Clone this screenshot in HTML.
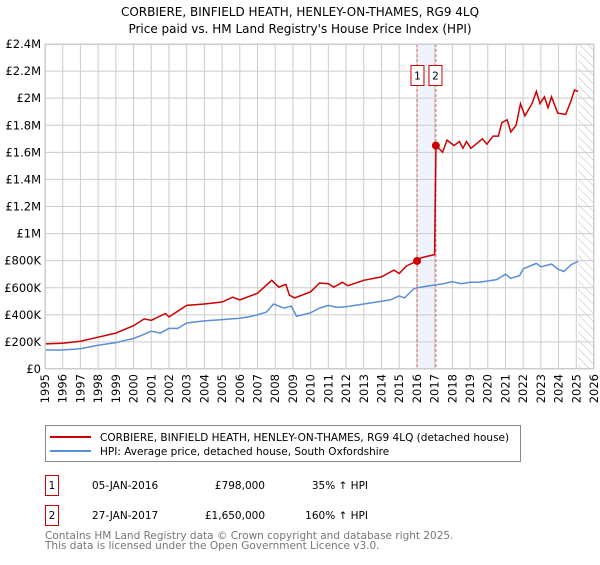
<!DOCTYPE html>
<html><head><meta charset="utf-8"><style>
body{margin:0;background:#fff;font-family:"Liberation Sans","DejaVu Sans",sans-serif;}
svg text{font-family:"DejaVu Sans","Liberation Sans",sans-serif;}
.xl{font-size:11.5px;text-anchor:end;}
</style></head><body>
<svg id="c" width="600" height="560" xmlns="http://www.w3.org/2000/svg">
<defs><pattern id="hatch" width="6" height="6" patternUnits="userSpaceOnUse" patternTransform="rotate(-45)"><line x1="0" y1="0" x2="0" y2="6" stroke="#bbb" stroke-width="1"/></pattern></defs>
<text x="300" y="16" text-anchor="middle" font-size="12">CORBIERE, BINFIELD HEATH, HENLEY-ON-THAMES, RG9 4LQ</text>
<text x="300" y="33" text-anchor="middle" font-size="12">Price paid vs. HM Land Registry's House Price Index (HPI)</text>
<g id="grid"></g><g id="marks"></g><g id="axes"></g>
<g id="xlabels">
<text class="xl" transform="translate(49,374) rotate(-90)">1995</text>
<text class="xl" transform="translate(66.7,374) rotate(-90)">1996</text>
<text class="xl" transform="translate(84.4,374) rotate(-90)">1997</text>
<text class="xl" transform="translate(102.1,374) rotate(-90)">1998</text>
<text class="xl" transform="translate(119.8,374) rotate(-90)">1999</text>
<text class="xl" transform="translate(137.5,374) rotate(-90)">2000</text>
<text class="xl" transform="translate(155.3,374) rotate(-90)">2001</text>
<text class="xl" transform="translate(173,374) rotate(-90)">2002</text>
<text class="xl" transform="translate(190.7,374) rotate(-90)">2003</text>
<text class="xl" transform="translate(208.4,374) rotate(-90)">2004</text>
<text class="xl" transform="translate(226.1,374) rotate(-90)">2005</text>
<text class="xl" transform="translate(243.8,374) rotate(-90)">2006</text>
<text class="xl" transform="translate(261.5,374) rotate(-90)">2007</text>
<text class="xl" transform="translate(279.2,374) rotate(-90)">2008</text>
<text class="xl" transform="translate(296.9,374) rotate(-90)">2009</text>
<text class="xl" transform="translate(314.6,374) rotate(-90)">2010</text>
<text class="xl" transform="translate(332.4,374) rotate(-90)">2011</text>
<text class="xl" transform="translate(350.1,374) rotate(-90)">2012</text>
<text class="xl" transform="translate(367.8,374) rotate(-90)">2013</text>
<text class="xl" transform="translate(385.5,374) rotate(-90)">2014</text>
<text class="xl" transform="translate(403.2,374) rotate(-90)">2015</text>
<text class="xl" transform="translate(420.9,374) rotate(-90)">2016</text>
<text class="xl" transform="translate(438.6,374) rotate(-90)">2017</text>
<text class="xl" transform="translate(456.3,374) rotate(-90)">2018</text>
<text class="xl" transform="translate(474,374) rotate(-90)">2019</text>
<text class="xl" transform="translate(491.7,374) rotate(-90)">2020</text>
<text class="xl" transform="translate(509.5,374) rotate(-90)">2021</text>
<text class="xl" transform="translate(527.2,374) rotate(-90)">2022</text>
<text class="xl" transform="translate(544.9,374) rotate(-90)">2023</text>
<text class="xl" transform="translate(562.6,374) rotate(-90)">2024</text>
<text class="xl" transform="translate(580.3,374) rotate(-90)">2025</text>
<text class="xl" transform="translate(598,374) rotate(-90)">2026</text>
</g>
<rect x="45.5" y="425.5" width="475" height="36" fill="#fff" stroke="#888"/>
<line x1="50" y1="437" x2="91" y2="437" stroke="#cc0000" stroke-width="2"/>
<text x="100" y="441" font-size="10.5">CORBIERE, BINFIELD HEATH, HENLEY-ON-THAMES, RG9 4LQ (detached house)</text>
<line x1="50" y1="451" x2="91" y2="451" stroke="#5b8fd6" stroke-width="2"/>
<text x="100" y="455" font-size="10.5">HPI: Average price, detached house, South Oxfordshire</text>
<rect x="45.5" y="475.5" width="13" height="20" fill="#fff" stroke="#cc0000"/>
<text x="52" y="489" text-anchor="middle" font-size="10.5">1</text>
<text x="92" y="489" font-size="10.5">05-JAN-2016</text>
<text x="265" y="489" text-anchor="end" font-size="10.5">£798,000</text>
<text x="368" y="489" text-anchor="end" font-size="10.5">35% ↑ HPI</text>
<rect x="45.5" y="505.5" width="13" height="20" fill="#fff" stroke="#cc0000"/>
<text x="52" y="519" text-anchor="middle" font-size="10.5">2</text>
<text x="92" y="519" font-size="10.5">27-JAN-2017</text>
<text x="265" y="519" text-anchor="end" font-size="10.5">£1,650,000</text>
<text x="368" y="519" text-anchor="end" font-size="10.5">160% ↑ HPI</text>
<text x="45" y="539" font-size="10.5" fill="#777">Contains HM Land Registry data © Crown copyright and database right 2025.</text>
<text x="45" y="549" font-size="10.5" fill="#777">This data is licensed under the Open Government Licence v3.0.</text>
</svg>
<script>
const yTickValues=[0,200,400,600,800,1000,1200,1400,1600,1800,2000,2200,2400];
const yTickLabels=["£0","£200K","£400K","£600K","£800K","£1M","£1.2M","£1.4M","£1.6M","£1.8M","£2M","£2.2M","£2.4M"];
const xYears=[1995,1996,1997,1998,1999,2000,2001,2002,2003,2004,2005,2006,2007,2008,2009,2010,2011,2012,2013,2014,2015,2016,2017,2018,2019,2020,2021,2022,2023,2024,2025,2026];
const hpiDates=[1995,1996,1997,1998,1999,2000,2000.5,2001,2001.5,2002,2002.5,2003,2004,2005,2006,2006.5,2007,2007.5,2007.9,2008.5,2008.9,2009.2,2010,2010.5,2011,2011.5,2012,2013,2014,2014.5,2015,2015.3,2015.8,2016,2016.5,2017,2017.5,2018,2018.5,2019,2019.5,2020,2020.5,2021,2021.3,2021.8,2022,2022.75,2023,2023.6,2024,2024.3,2024.7,2025.1];
const hpiValues=[140,140,150,175,195,225,250,280,265,300,300,340,355,365,375,385,400,420,480,450,465,390,415,450,470,455,460,480,500,510,540,525,590,600,610,620,630,645,630,640,640,650,660,700,670,690,740,780,755,775,735,720,770,795];
const ppDates=[1995,1996,1997,1998,1999,2000,2000.6,2001,2001.8,2002,2003,2004,2005,2005.6,2006,2007,2007.8,2008.2,2008.6,2008.8,2009.1,2010,2010.5,2011,2011.3,2011.8,2012.1,2013,2014,2014.7,2015,2015.4,2016.01,2016.2,2016.5,2017,2017.08,2017.45,2017.7,2018.1,2018.4,2018.6,2018.8,2019.05,2019.7,2019.95,2020.3,2020.6,2020.8,2021.1,2021.3,2021.6,2021.85,2022.1,2022.5,2022.75,2022.95,2023.2,2023.4,2023.6,2023.95,2024.4,2024.7,2024.9,2025.1];
const ppValues=[185,190,205,235,265,320,370,360,410,385,470,480,495,530,510,560,655,605,625,545,525,570,635,630,605,640,615,655,680,730,705,760,798,820,830,845,1650,1600,1690,1650,1680,1630,1680,1630,1700,1660,1720,1720,1820,1840,1750,1800,1960,1870,1960,2050,1960,2010,1930,2010,1890,1880,1980,2060,2050];
const sales=[{n:"1",d:2016.01,v:798},{n:"2",d:2017.07,v:1650}];
const X0=45,X1=594,Y0=369,Y1=44;
const sx=d=>X0+(d-1995)/(2026-1995)*(X1-X0);
const sy=v=>Y0-v/2400*(Y0-Y1);
const NS="http://www.w3.org/2000/svg";
function mk(p,t,a){const e=document.createElementNS(NS,t);for(const k in a)e.setAttribute(k,a[k]);p.appendChild(e);return e;}
const grid=document.getElementById('grid'),marks=document.getElementById('marks'),axes=document.getElementById('axes');
const bg=mk(grid,'rect',{x:X0,y:Y1,width:X1-X0,height:Y0-Y1,fill:'#fff'});


const band=mk(grid,'rect',{x:sx(sales[0].d),y:Y1,width:sx(sales[1].d)-sx(sales[0].d),height:Y0-Y1,fill:'#eef3fc'});


const ht=mk(grid,'rect',{x:sx(2025.1),y:Y1,width:X1-sx(2025.1),height:Y0-Y1,fill:'url(#hatch)'});


yTickValues.forEach((v,i)=>{
 const l=mk(grid,'line',{x1:X0,x2:X1,y1:sy(v),y2:sy(v),stroke:'#ccc','stroke-width':1});
 
 
 const t=mk(axes,'text',{x:X0-4,y:sy(v)+4,'text-anchor':'end','font-size':11.5});
 
 
 t.textContent=yTickLabels[i];
});
xYears.forEach(y=>{
 const l=mk(grid,'line',{x1:sx(y),x2:sx(y),y1:Y1,y2:Y0,stroke:'#ccc','stroke-width':1});
 
 
});
sales.forEach(s=>{
 const l=mk(grid,'line',{x1:sx(s.d),x2:sx(s.d),y1:Y1,y2:Y0,stroke:'#e06060','stroke-width':1,'stroke-dasharray':'3,2'});
 
 
});
const path=(ds,vs)=>ds.map((d,i)=>(i?'L':'M')+sx(d).toFixed(1)+','+sy(vs[i]).toFixed(1)).join('');
const hl=mk(marks,'path',{d:path(hpiDates,hpiValues),fill:'none',stroke:'#5b8fd6','stroke-width':1.5});


const pl=mk(marks,'path',{d:path(ppDates,ppValues),fill:'none',stroke:'#cc0000','stroke-width':1.5});


sales.forEach(s=>{
 const c=mk(marks,'circle',{cx:sx(s.d),cy:sy(s.v),r:4,fill:'#cc0000'});
 
 
});
[[sales[0].d,-8,'1'],[sales[1].d,8,'2']].forEach(([d,off,n])=>{
 const r=mk(marks,'rect',{x:sx((sales[0].d+sales[1].d)/2)+off-6.5+(off<0?-1:1),y:65.5,width:13,height:20,fill:'#fff',stroke:'#cc0000'});
 
 
 const t=mk(marks,'text',{x:sx((sales[0].d+sales[1].d)/2)+off+(off<0?-1:1),y:79.5,'text-anchor':'middle','font-size':10.5});
 
 
 t.textContent=n;
});
const fr=mk(axes,'rect',{x:X0+0.5,y:Y1+0.5,width:X1-X0-1,height:Y0-Y1-1,fill:'none',stroke:'#ccc'});


</script>
</body></html>
